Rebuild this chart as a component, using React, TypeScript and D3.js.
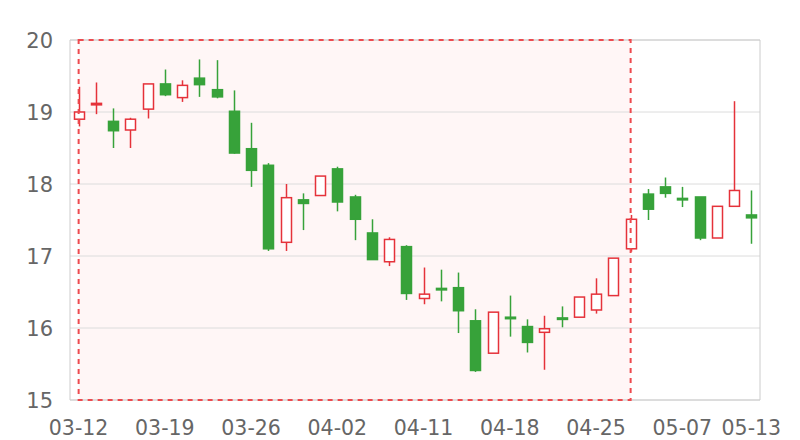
import React from "react";
import * as d3 from "d3";

const dates = [
  "03-12","03-13","03-14","03-15","03-16",
  "03-19","03-20","03-21","03-22","03-23",
  "03-26","03-27","03-28","03-29","03-30",
  "04-02","04-03","04-04","04-09","04-10",
  "04-11","04-12","04-13","04-16","04-17",
  "04-18","04-19","04-20","04-23","04-24",
  "04-25","04-26","04-27","05-02","05-03",
  "05-07","05-08","05-09","05-10","05-13",
];
const opens = [18.90,19.10,18.87,18.75,19.04,19.39,19.20,19.47,19.31,19.01,18.49,18.26,17.19,17.78,17.84,18.21,17.82,17.32,16.92,17.13,16.41,16.55,16.56,16.10,15.65,16.15,16.02,15.94,16.14,16.15,16.25,16.45,17.10,17.86,17.96,17.80,17.82,17.25,17.69,17.57];
const closes = [19.00,19.12,18.74,18.90,19.39,19.24,19.37,19.38,19.21,18.43,18.19,17.10,17.81,17.73,18.11,17.75,17.51,16.95,17.23,16.48,16.47,16.53,16.24,15.41,16.22,16.13,15.80,15.99,16.12,16.43,16.47,16.97,17.51,17.65,17.87,17.78,17.25,17.69,17.91,17.53];
const highs = [19.35,19.41,19.05,18.92,19.39,19.59,19.44,19.73,19.72,19.30,18.85,18.29,18.00,17.87,18.11,18.24,17.85,17.51,17.26,17.15,16.84,16.81,16.77,16.26,16.22,16.45,16.12,16.17,16.30,16.43,16.69,16.97,17.57,17.93,18.09,17.96,17.82,17.69,19.15,17.91];
const lows = [18.80,18.97,18.50,18.50,18.91,19.22,19.14,19.21,19.19,18.42,17.96,17.07,17.07,17.36,17.84,17.62,17.22,16.95,16.86,16.39,16.33,16.37,15.93,15.39,15.65,15.88,15.66,15.42,16.01,16.15,16.20,16.45,17.06,17.50,17.81,17.68,17.22,17.25,17.69,17.17];
const yTicks = [15, 16, 17, 18, 19, 20];
const xTickIdx = [0, 5, 10, 15, 20, 25, 30, 35, 39];
const areaStart = "03-12";
const areaEnd = "04-27";

const W = 800, H = 440;
const M = { l: 70, r: 40, t: 40, b: 40 };
const UP = "#e5323a";
const DOWN = "#37a23a";
const FONT = "'DejaVu Sans', sans-serif";

export default function App() {
  const x = d3.scaleBand<string>().domain(dates).range([M.l, W - M.r]);
  const y = d3.scaleLinear().domain([15, 20]).range([H - M.b, M.t]);
  const cx = (d: string) => (x(d) as number) + x.bandwidth() / 2;
  const bw = 10;
  const ax0 = cx(areaStart), ax1 = cx(areaEnd);

  return (
    <svg width={W} height={H} style={{ position: "absolute", left: 0, top: 0 }}>
      <rect x={0} y={0} width={W} height={H} fill="#fff" />
      <rect x={ax0} y={M.t} width={ax1 - ax0} height={H - M.t - M.b} fill="#fff6f6" />
      {yTicks.map((t) => (
        <line key={t} x1={M.l} x2={W - M.r} y1={y(t)} y2={y(t)} stroke="#dcdcdc" strokeWidth={1} />
      ))}
      <line x1={M.l} x2={M.l} y1={M.t} y2={H - M.b} stroke="#cccccc" />
      <line x1={W - M.r} x2={W - M.r} y1={M.t} y2={H - M.b} stroke="#cccccc" />
      <line x1={M.l} x2={W - M.r} y1={H - M.b} y2={H - M.b} stroke="#cccccc" />
      <line x1={M.l} x2={W - M.r} y1={M.t} y2={M.t} stroke="#cccccc" />
      {yTicks.map((t) => (
        <text key={t} x={M.l - 17} y={y(t) + 8} textAnchor="end" fontFamily={FONT} fontSize={21} fill="#666">
          {t}
        </text>
      ))}
      {xTickIdx.map((i) => (
        <text key={i} x={cx(dates[i])} y={435} textAnchor="middle" fontFamily={FONT} fontSize={20.5} fill="#666">
          {dates[i]}
        </text>
      ))}
      {dates.map((d, i) => {
        const up = closes[i] >= opens[i];
        const c = up ? UP : DOWN;
        const top = y(Math.max(opens[i], closes[i]));
        const bot = y(Math.min(opens[i], closes[i]));
        const h = Math.max(bot - top, 1.5);
        const xc = Math.round(cx(d)) + 0.5;
        return (
          <g key={d}>
            <line x1={xc} x2={xc} y1={y(highs[i])} y2={top} stroke={c} strokeWidth={1.5} />
            <line x1={xc} x2={xc} y1={bot} y2={y(lows[i])} stroke={c} strokeWidth={1.5} />
            <rect x={xc - bw / 2} y={top} width={bw} height={h} fill={up ? "#fff" : c} stroke={c} strokeWidth={1.5} />
          </g>
        );
      })}
      <rect x={ax0} y={M.t} width={ax1 - ax0} height={H - M.t - M.b} fill="none" stroke="#ee4a4f" strokeWidth={2} strokeDasharray="5,5" />
    </svg>
  );
}
